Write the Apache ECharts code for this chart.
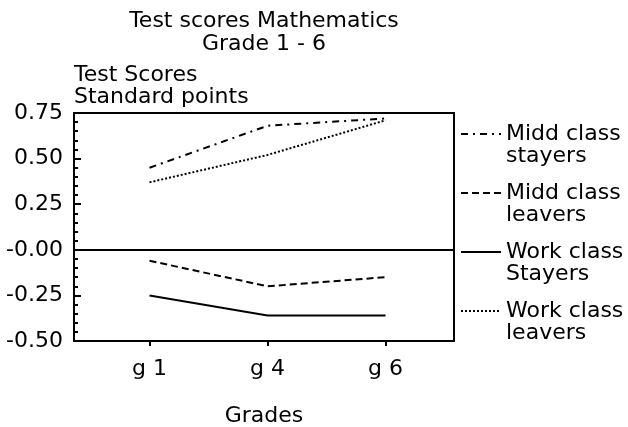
<!DOCTYPE html>
<html>
<head>
<meta charset="utf-8">
<script src="https://cdn.jsdelivr.net/npm/echarts@6/dist/echarts.min.js"></script>
<style>
  html, body { margin: 0; padding: 0; background: #fff; }
  #chart { width: 628px; height: 427px; }
</style>
</head>
<body>
<div id="chart"></div>
<script>
// data
const grades = ['g 1', 'g 4', 'g 6']
const seriesNames = ['Midd class\nstayers', 'Midd class\nleavers', 'Work class\nStayers', 'Work class\nleavers']
const middStayers = [0.45, 0.68, 0.72]
const middLeavers = [-0.06, -0.20, -0.15]
const workStayers = [-0.25, -0.36, -0.36]
const workLeavers = [0.37, 0.52, 0.71]

const font = 'DejaVu Sans'
const dashes = [[7, 5, 2, 5], [7, 4], 'solid', [2, 2]]
const values = [middStayers, middLeavers, workStayers, workLeavers]
const gradeIdx = grades.map((g, i) => i)

const chart = echarts.init(document.getElementById('chart'))

const series = seriesNames.map((name, k) => ({
  name: name,
  type: 'line',
  symbol: 'none',
  data: values[k].map((v, i) => [i, v]),
  lineStyle: { color: '#000', width: 2, type: dashes[k] },
  itemStyle: { color: '#000' }
}))

// zero line across the plot
series[0].markLine = {
  silent: true,
  symbol: ['none', 'none'],
  label: { show: false },
  lineStyle: { color: '#000', width: 2, type: 'solid' },
  data: [{ yAxis: 0 }]
}

const option = {
  animation: false,
  backgroundColor: '#fff',
  textStyle: { fontFamily: font, color: '#000' },
  title: {
    text: 'Test scores Mathematics\nGrade 1 - 6',
    left: 264,
    top: 10,
    padding: 0,
    textAlign: 'center',
    textStyle: { fontFamily: font, fontSize: 22, fontWeight: 'normal', color: '#000', lineHeight: 23 }
  },
  legend: {
    orient: 'vertical',
    left: 460,
    top: 101,
    padding: 0,
    itemWidth: 40,
    itemHeight: 10,
    itemGap: -7,
    data: seriesNames,
    // blank first line so the sample line sits beside the first text line
    formatter: name => '\n' + name,
    itemStyle: { color: 'rgba(0,0,0,0)', borderWidth: 0, opacity: 0 },
    textStyle: {
      fontFamily: font,
      fontSize: 22,
      color: '#000',
      lineHeight: 22
    }
  },
  grid: {
    left: 74,
    right: 174,
    top: 113,
    bottom: 86,
    outerBoundsMode: 'none',
    show: true,
    borderColor: '#000',
    borderWidth: 2,
    backgroundColor: 'transparent'
  },
  xAxis: {
    type: 'value',
    min: -0.64,
    max: 2.58,
    name: 'Grades',
    nameLocation: 'middle',
    nameGap: 64,
    nameTextStyle: { fontFamily: font, fontSize: 22, color: '#000' },
    axisLine: { onZero: false, lineStyle: { color: '#000', width: 2 } },
    axisTick: { customValues: gradeIdx, length: 5, lineStyle: { color: '#000', width: 2 } },
    axisLabel: {
      customValues: gradeIdx,
      formatter: v => grades[Math.round(v)],
      fontFamily: font,
      fontSize: 22,
      color: '#000',
      margin: 17
    },
    splitLine: { show: false }
  },
  yAxis: {
    type: 'value',
    min: -0.5,
    max: 0.75,
    interval: 0.25,
    name: 'Test Scores\nStandard points',
    nameLocation: 'end',
    nameGap: 5,
    nameTextStyle: {
      fontFamily: font,
      fontSize: 22,
      color: '#000',
      align: 'left',
      verticalAlign: 'bottom',
      lineHeight: 22
    },
    axisLine: { show: true, onZero: false, lineStyle: { color: '#000', width: 2 } },
    axisTick: { inside: true, length: 7, lineStyle: { color: '#000', width: 2 } },
    minorTick: { show: true, splitNumber: 5, length: 4, lineStyle: { color: '#000', width: 2 } },
    axisLabel: {
      formatter: v => (v === 0 ? '-0.00' : v.toFixed(2)),
      fontFamily: font,
      fontSize: 22,
      color: '#000',
      margin: 11
    },
    splitLine: { show: false }
  },
  series: series
}

chart.setOption(option)
</script>
</body>
</html>
